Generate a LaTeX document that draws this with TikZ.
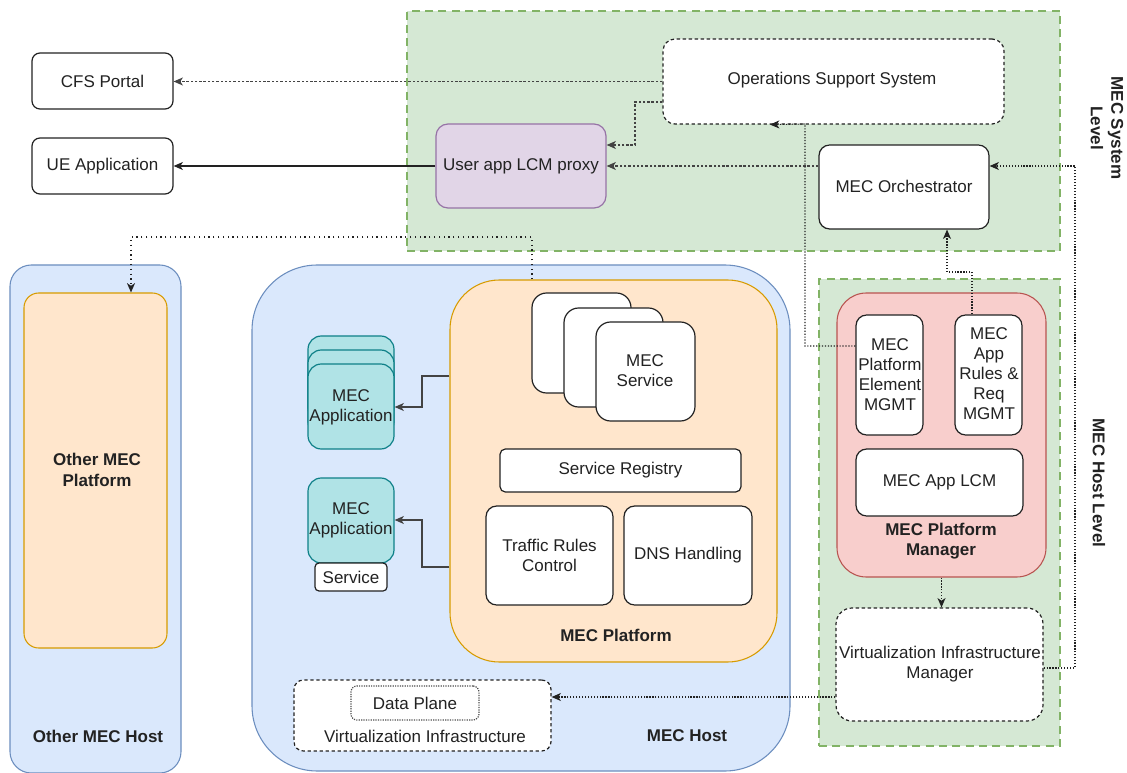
\documentclass[tikz,border=0pt]{standalone}
\usepackage{fontspec}
\setmainfont{Liberation Sans}
\usetikzlibrary{arrows.meta,fit}

\definecolor{grnfill}{HTML}{D5E8D4}
\definecolor{grnline}{HTML}{82B366}
\definecolor{bluefill}{HTML}{DAE8FC}
\definecolor{blueline}{HTML}{6C8EBF}
\definecolor{orgfill}{HTML}{FFE6CC}
\definecolor{orgline}{HTML}{D79B00}
\definecolor{redfill}{HTML}{F8CECC}
\definecolor{redline}{HTML}{B85450}
\definecolor{purfill}{HTML}{E1D5E7}
\definecolor{purline}{HTML}{9673A6}
\definecolor{tealfill}{HTML}{B0E3E6}
\definecolor{tealline}{HTML}{0E8088}
\definecolor{ink}{HTML}{222222}

\tikzset{
  txt/.style={font=\fontsize{12.75}{15}\selectfont, text=ink, align=center, inner sep=0pt},
  btxt/.style={txt, font=\fontsize{12.75}{15.5}\selectfont\bfseries},
  region/.style={fill=grnfill, draw=grnline, line width=0.8pt, dash pattern=on 6pt off 4pt, inner sep=0pt},
  host/.style={fill=bluefill, draw=blueline, line width=0.8pt, inner sep=0pt},
  platform/.style={fill=orgfill, draw=orgline, line width=0.8pt, inner sep=0pt},
  box/.style={draw=ink, fill=white, line width=0.9pt, rounded corners=6pt, inner sep=0pt},
  dbox/.style={box, dash pattern=on 2.5pt off 2pt},
  appbox/.style={draw=tealline, fill=tealfill, line width=0.9pt, rounded corners=10pt, inner sep=0pt},
  tip/.style={-{Stealth[length=7pt,width=6pt,inset=2pt]}},
  solidc/.style={tip, draw=ink, line width=0.9pt},
  dashc/.style={tip, draw=ink!85, line width=0.8pt, dash pattern=on 1.8pt off 1.4pt},
  dotc/.style={tip, draw=ink, line width=0.8pt, dash pattern=on 0.9pt off 1.3pt},
  sparsec/.style={tip, draw=ink, line width=1pt, dash pattern=on 1pt off 2.6pt},
}

\begin{document}
\begin{tikzpicture}[x=0.75pt,y=-0.75pt]
\useasboundingbox (0,0) rectangle (1127,773);
\fill[white] (0,0) rectangle (1127,773);

% level regions
\node[region, fit={(407,11) (1060,251)}] (syslvl) {};
\node[region, fit={(819,279) (1060,746)}] (hostlvl) {};

% hosts
\node[host, rounded corners=16pt, fit={(10,265) (181,773)}] (omh) {};
\node[host, rounded corners=49pt, fit={(252,265) (790,771)}] (mh) {};

% platforms
\node[platform, rounded corners=11pt, fit={(24,293) (167,648)}] (omp) {};
\node[platform, rounded corners=37pt, fit={(450,280) (777,662)}] (plat) {};
\node[fill=redfill, draw=redline, line width=0.8pt, inner sep=0pt, rounded corners=22pt,
      fit={(837,293) (1046,577)}] (pm) {};

% system level boxes
\node[box, fit={(32,53) (173,109)}] (cfs) {};
\node[txt] at (cfs) {CFS Portal};
\node[box, fit={(32,138) (173,194)}] (ue) {};
\node[txt] at (ue) {UE Application};
\node[dbox, rounded corners=9pt, fit={(663,39) (1004,124)}] (oss) {};
\node[txt] at (832,80) {Operations Support System};
\node[box, fill=purfill, draw=purline, rounded corners=9pt, fit={(436,124) (606,208)}] (proxy) {};
\node[txt] at (proxy) {User app LCM proxy};
\node[box, rounded corners=8pt, fit={(819,145) (989,229)}] (orch) {};
\node[txt] at (904,186) {MEC Orchestrator};

% MEC services stack
\node[box, rounded corners=11pt, fit={(532,293) (631,393)}] (svc3) {};
\node[box, rounded corners=11pt, fit={(564,308) (663,407)}] (svc2) {};
\node[box, rounded corners=11pt, fit={(596,322) (695,421)}] (svc1) {};
\node[txt] at (645,371) {MEC\\Service};

\node[box, rounded corners=4pt, fit={(500,449) (741,492)}] (reg) {};
\node[txt] at (reg) {Service Registry};
\node[box, rounded corners=8pt, fit={(486,506) (613,605)}] (trc) {};
\node[txt] at (trc) {Traffic Rules\\Control};
\node[box, rounded corners=8pt, fit={(624,506) (752,605)}] (dns) {};
\node[txt] at (dns) {DNS Handling};
\node[btxt] at (616,635) {MEC Platform};

% MEC applications
\node[appbox, fit={(308,336) (394,421)}] (app1c) {};
\node[appbox, fit={(308,350) (394,435)}] (app1b) {};
\node[appbox, fit={(308,364) (394,449)}] (app1) {};
\node[txt] at (351,407) {MEC\\Application};
\node[appbox, fit={(308,478) (394,563)}] (app2) {};
\node[txt] at (app2) {MEC\\Application};
\node[box, rounded corners=3pt, fit={(315,563) (387,591)}] (appsvc) {};
\node[txt] at (appsvc) {Service};

% virtualization infrastructure
\node[dbox, rounded corners=7pt, fit={(294,680) (551,751)}] (vi) {};
\node[txt] at (425,736) {Virtualization Infrastructure};
\node[box, draw=ink!80, rounded corners=4.5pt, dash pattern=on 0.9pt off 0.9pt, fit={(351,686) (479,720)}] (dp) {};
\node[txt] at (dp) {Data Plane};

% platform manager
\node[box, rounded corners=8pt, fit={(856,315) (923,435)}] (pem) {};
\node[txt] at (890,375) {MEC\\Platform\\Element\\MGMT};
\node[box, rounded corners=8pt, fit={(955,315) (1022,435)}] (rules) {};
\node[txt] at (989,374) {MEC\\App\\Rules \&\\Req\\MGMT};
\node[box, rounded corners=8pt, fit={(856,449) (1023,516)}] (lcm) {};
\node[txt] at (lcm) {MEC App LCM};
\node[btxt] at (941,541) {MEC Platform\\Manager};

\node[dbox, rounded corners=12pt, fit={(836,608) (1043,721)}] (vim) {};
\node[txt] at (940,664) {Virtualization Infrastructure\\Manager};

% host labels
\node[btxt] at (97,470) {Other MEC\\Platform};
\node[btxt] at (98,736) {Other MEC Host};
\node[btxt] at (687,736) {MEC Host};
\node[btxt, rotate=-90] at (1107,128) {MEC System\\Level};
\node[btxt, rotate=-90] at (1099,483) {MEC Host Level};

% connectors
\draw[dashc] (oss.west) -- (oss.west -| cfs.east);
\draw[dashc] (oss.west |- 0,102) -| (635,145) -- (proxy.east |- 0,145);
\draw[dashc] (orch.west |- 0,166) -- (proxy.east |- 0,166);
\draw[solidc] (proxy.west) -- (ue.east);
\draw[dotc] (vim.east |- 0,668) -| (1075,166) -- (orch.east |- 0,166);
\draw[dotc] (pem.west |- 0,346) -| (805,124) -- (oss.south -| 770,0);
\draw[dotc] (rules.north -| 972,0) |- (947,272) -- (orch.south -| 947,0);
\draw[dotc] (pm.south) -- (pm.south |- vim.north);
\draw[dotc] (vim.west |- 0,697) -- (vi.east |- 0,697);
\draw[sparsec] (plat.north -| 532,0) |- (131,237) -- (omp.north -| 131,0);
\draw[solidc, draw=ink!85] (plat.west |- 0,376) -| (422,407) -- (app1.east |- 0,407);
\draw[solidc, draw=ink!85] (plat.west |- 0,567) -| (422,520) -- (app2.east |- 0,520);
\end{tikzpicture}
\end{document}
